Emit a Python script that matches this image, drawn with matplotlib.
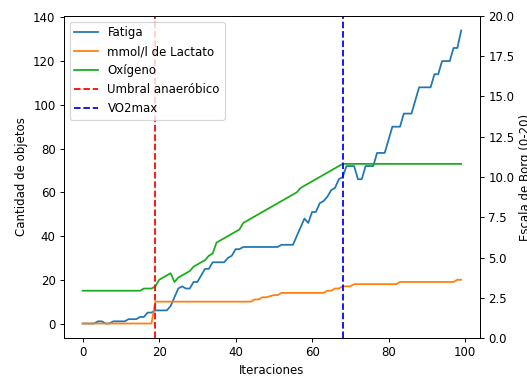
import matplotlib
matplotlib.use("Agg")
import matplotlib.pyplot as plt
import numpy as np

iteraciones = np.arange(100)

fatiga = [0, 0, 0, 0, 1, 1, 0, 0, 1, 1,
          1, 1, 2, 2, 2, 3, 3, 5, 5, 6,
          6, 6, 6, 8, 12, 16, 17, 16, 16, 19,
          19, 22, 25, 25, 28, 28, 28, 28, 30, 31,
          34, 34, 35, 35, 35, 35, 35, 35, 35, 35,
          35, 35, 36, 36, 36, 36, 40, 44, 48, 46,
          51, 51, 55, 56, 58, 61, 62, 66, 67, 72,
          72, 72, 66, 66, 72, 72, 72, 78, 78, 78,
          84, 90, 90, 90, 96, 96, 96, 102, 108, 108,
          108, 108, 114, 114, 120, 120, 120, 126, 126, 134]

lactato = [0] * 19 + [10] * 26 + [11, 11, 12, 12, 12.5, 13, 13] + [14] * 12 + \
          [15, 15, 16, 16, 17, 17, 17] + [18] * 12 + [19] * 15 + [20, 20]

oxigeno = [15] * 16 + [16, 16, 16, 17, 20, 21, 22, 23, 19, 21,
                       22, 23, 24, 26, 27, 28, 29, 31, 32, 37,
                       38, 39, 40, 41, 42, 43, 46, 47, 48, 49,
                       50, 51, 52, 53, 54, 55, 56, 57, 58, 59,
                       60, 62, 63, 64, 65, 66, 67, 68, 69, 70,
                       71, 72, 73] + [73] * 31

umbral = 19
vo2max = 68

dpi = 85
fig = plt.figure(figsize=(527 / dpi, 377 / dpi), dpi=dpi)
ax = fig.add_subplot(111)
fig.subplots_adjust(left=0.121, right=0.911, bottom=0.103, top=0.958)

ax.plot(iteraciones, fatiga, color='C0', label='Fatiga')
ax.plot(iteraciones, lactato, color='C1', label='mmol/l de Lactato')
ax.plot(iteraciones, oxigeno, color='#1aad1a', label='Oxígeno')
ax.axvline(umbral, color='r', linestyle='--', label='Umbral anaeróbico')
ax.axvline(vo2max, color='b', linestyle='--', label='VO2max')
ax.set_xlabel('Iteraciones')
ax.set_ylabel('Cantidad de objetos')
ax.legend(loc='upper left')

ax2 = ax.twinx()
ax2.set_ylim(0, 20)
ax2.set_ylabel('Escala de Borg (0-20)')

fig.savefig('out.png', dpi=dpi)
